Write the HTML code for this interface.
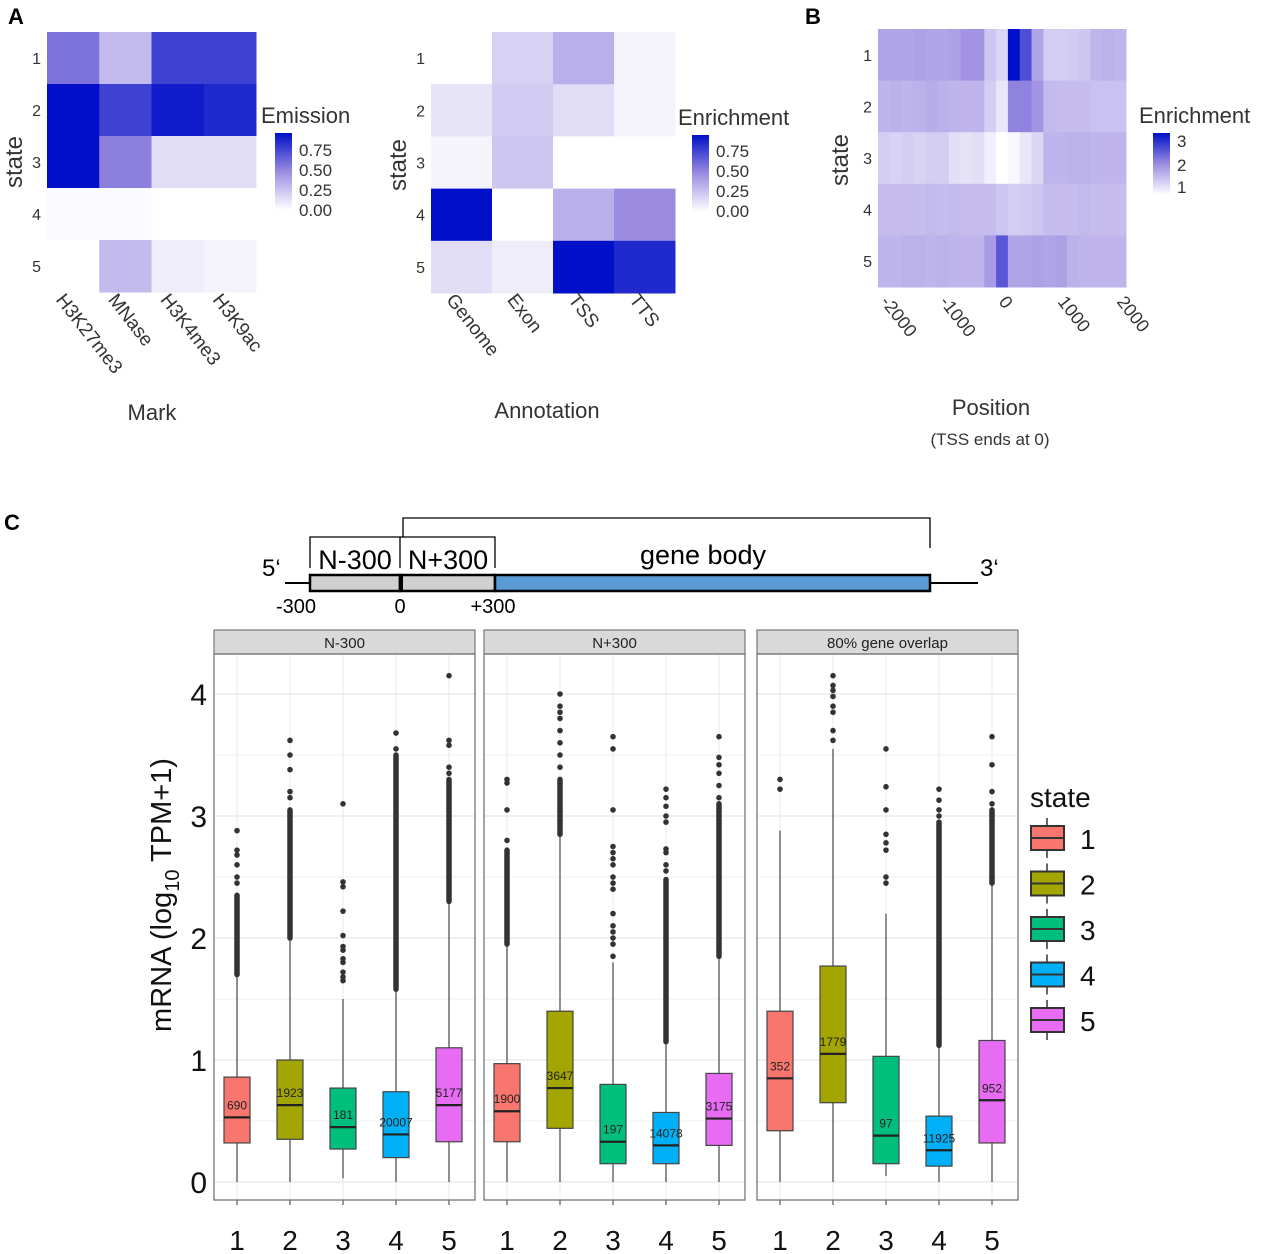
<!DOCTYPE html>
<html><head><meta charset="utf-8"><style>
html,body{margin:0;padding:0;background:#fff}
svg{display:block;font-family:"Liberation Sans",sans-serif}
</style></head><body>
<svg id="fig" width="1280" height="1254" viewBox="0 0 1280 1254" xmlns="http://www.w3.org/2000/svg">
<defs>
<linearGradient id="gradA" x1="0" y1="1" x2="0" y2="0"><stop offset="0" stop-color="#ffffff"/><stop offset="0.5" stop-color="#9b8ce1"/><stop offset="1" stop-color="#0010c8"/></linearGradient>
</defs>
<text x="8" y="24" font-size="22" font-weight="bold">A</text>
<text x="805" y="24" font-size="22" font-weight="bold">B</text>
<text x="4" y="530" font-size="22" font-weight="bold">C</text>
<g id="hm"></g>
<g id="diagram">
<line x1="285" y1="583" x2="978" y2="583" stroke="#000" stroke-width="2"/>
<rect x="310" y="575" width="90" height="16" fill="#d0d0d0" stroke="#000" stroke-width="2.5"/>
<rect x="400" y="575" width="95" height="16" fill="#d0d0d0" stroke="#000" stroke-width="2.5"/>
<rect x="495" y="575" width="435" height="16" fill="#5b9bd5" stroke="#000" stroke-width="2.5"/>
<line x1="401" y1="574" x2="401" y2="592" stroke="#000" stroke-width="4"/>
<path d="M310 568 V537 H400 V568 M400 568 V537 H495 V568" fill="none" stroke="#000" stroke-width="1.3"/>
<path d="M403 537 V518 H930 V548" fill="none" stroke="#000" stroke-width="1.3"/>
<text x="355" y="569" font-size="27" text-anchor="middle">N-300</text>
<text x="448" y="569" font-size="27" text-anchor="middle">N+300</text>
<text x="703" y="564" font-size="27" text-anchor="middle">gene body</text>
<text x="262" y="576" font-size="24">5‘</text>
<text x="980" y="576" font-size="24">3‘</text>
<text x="296" y="613" font-size="20" text-anchor="middle">-300</text>
<text x="400" y="613" font-size="20" text-anchor="middle">0</text>
<text x="493" y="613" font-size="20" text-anchor="middle">+300</text>
</g>
<g id="box"></g>
</svg>
<script>
// ---------- Heatmap data ----------
const marks = ["H3K27me3","MNase","H3K4me3","H3K9ac"];
const emission = [[0.6,0.3,0.8,0.8],[1.0,0.8,0.95,0.9],[1.0,0.55,0.15,0.15],[0.02,0.02,0.0,0.0],[0.0,0.3,0.08,0.05]];
const annotations = ["Genome","Exon","TSS","TTS"];
const annotEnrich = [[0.0,0.2,0.35,0.05],[0.12,0.22,0.15,0.05],[0.05,0.25,0.0,0.0],[1.0,0.0,0.35,0.5],[0.15,0.08,1.0,0.9]];
const positions = [-2000,-1800,-1600,-1400,-1200,-1000,-800,-600,-400,-200,0,200,400,600,800,1000,1200,1400,1600,1800,2000];
const posTicks = [-2000,-1000,0,1000,2000];
const posEnrich = [
 [1.6,1.6,1.6,1.65,1.6,1.6,1.65,1.8,1.8,1.2,1.0,3.3,2.6,1.6,1.1,1.1,1.15,1.2,1.4,1.45,1.4],
 [1.4,1.45,1.4,1.45,1.5,1.45,1.4,1.4,1.4,1.1,0.8,2.0,2.0,1.8,1.35,1.3,1.3,1.3,1.25,1.25,1.25],
 [1.1,1.05,1.1,1.05,1.1,1.1,0.9,0.85,0.9,0.7,0.5,0.6,0.8,1.0,1.4,1.4,1.45,1.45,1.4,1.4,1.4],
 [1.3,1.3,1.3,1.3,1.35,1.3,1.35,1.3,1.3,1.3,1.2,1.1,1.15,1.2,1.3,1.3,1.3,1.35,1.3,1.3,1.3],
 [1.4,1.4,1.45,1.45,1.4,1.45,1.4,1.4,1.4,1.7,2.5,1.6,1.6,1.65,1.6,1.65,1.45,1.4,1.4,1.4,1.4]];
const stateLabels = ["1","2","3","4","5"];

// ---------- Boxplot data ----------
const facets = ["N-300","N+300","80% gene overlap"];
const q1 = [[0.32,0.35,0.27,0.2,0.33],[0.33,0.44,0.15,0.15,0.3],[0.42,0.65,0.15,0.13,0.32]];
const med = [[0.53,0.63,0.45,0.39,0.63],[0.58,0.77,0.33,0.3,0.52],[0.85,1.05,0.38,0.26,0.67]];
const q3 = [[0.86,1.0,0.77,0.74,1.1],[0.97,1.4,0.8,0.57,0.89],[1.4,1.77,1.03,0.54,1.16]];
const wLo = [[0.0,0.0,0.03,0.0,0.0],[0.0,0.0,0.0,0.0,0.0],[0.0,0.0,0.05,0.0,0.0]];
const wHi = [[1.7,2.0,1.5,1.58,2.3],[1.95,2.85,1.8,1.15,1.85],[2.88,3.55,2.2,1.12,2.45]];
const denseLo = [[1.7,2.0,null,1.58,2.3],[1.95,2.85,null,1.15,1.85],[null,null,null,1.12,2.45]];
const denseHi = [[2.35,3.05,null,3.5,3.3],[2.72,3.3,null,2.48,3.1],[null,null,null,2.95,3.05]];
const sparse = [
 [[2.45,2.5,2.6,2.68,2.72,2.88],[3.15,3.2,3.38,3.5,3.62],[1.65,1.68,1.72,1.8,1.83,1.9,1.93,2.02,2.22,2.42,2.46,3.1],[3.55,3.68],[3.35,3.4,3.58,3.62,4.15]],
 [[2.8,3.05,3.27,3.3],[3.4,3.5,3.6,3.7,3.8,3.85,3.9,4.0],[1.85,1.95,2.0,2.05,2.1,2.2,2.4,2.45,2.5,2.6,2.65,2.7,2.75,3.05,3.55,3.65],[2.55,2.6,2.7,2.73,2.95,3.0,3.08,3.15,3.22],[3.15,3.25,3.35,3.42,3.48,3.65]],
 [[3.22,3.3],[3.62,3.7,3.85,3.9,3.98,4.03,4.07,4.15],[2.45,2.5,2.72,2.78,2.85,3.05,3.24,3.55],[3.0,3.05,3.13,3.22],[3.1,3.2,3.42,3.65]]];
const counts = [["690","1923","181","20007","5177"],["1900","3647","197","14078","3175"],["352","1779","97","11925","952"]];
const yTicks = [0,1,2,3,4];

const NS = "http://www.w3.org/2000/svg";
function mk(parent, tag, attrs, txt){const e=document.createElementNS(NS,tag);for(const k in attrs)e.setAttribute(k,attrs[k]);if(txt!==undefined)e.textContent=txt;parent.appendChild(e);return e;}
function lerp(a,b,t){return Math.round(a+(b-a)*t);}
function ramp(t){t=Math.max(0,Math.min(1,t));let c0,c1,u;
 if(t<0.5){c0=[255,255,255];c1=[155,140,225];u=t/0.5;}else{c0=[155,140,225];c1=[0,16,200];u=(t-0.5)/0.5;}
 return `rgb(${lerp(c0[0],c1[0],u)},${lerp(c0[1],c1[1],u)},${lerp(c0[2],c1[2],u)})`;}

const hm = document.getElementById('hm');
function heatmap(x0,x1,y0,y1,vals,colorOf,name){
 const nr=vals.length,nc=vals[0].length,cw=(x1-x0)/nc,rh=(y1-y0)/nr;
 const g=mk(hm,'g',{});
 
 
 vals.forEach((row,r)=>row.forEach((v,c)=>{
  const cell=mk(g,'rect',{x:x0+c*cw,y:y0+r*rh,width:cw+0.5,height:rh+0.5,fill:colorOf(v)});
  
  
 }));
 stateLabels.forEach((s,r)=>{
  const t=mk(hm,'text',{x:x0-6,y:y0+r*rh+rh/2+6,'font-size':16,'text-anchor':'end',fill:'#333'},s);
  
  
 });
 return {cw,rh};
}
function stateTitle(x,y){const t=mk(hm,'text',{x:0,y:0,'font-size':24,'text-anchor':'middle',fill:'#333',transform:`translate(${x},${y}) rotate(-90)`},'state');
 
 }
function colorbar(x,y,h,title,labels,ty){
 const tt=mk(hm,'text',{x:x-14,y:y-10,'font-size':22,fill:'#333'},title);
 
 
 const r=mk(hm,'rect',{x:x,y:y,width:17,height:h,fill:'url(#gradA)'});
 
 
 labels.forEach((l,i)=>{const t=mk(hm,'text',{x:x+24,y:ty[i]+6,'font-size':17,fill:'#333'},l);
  
  });
}
function rotLabels(xs,y,labels,fs,dx){labels.forEach((l,i)=>{const t=mk(hm,'text',{x:0,y:0,'font-size':fs,fill:'#333',transform:`translate(${xs[i]+dx},${y}) rotate(52)`},l);
 
 });}
function axTitle(x,y,s,fs){const t=mk(hm,'text',{x:x,y:y,'font-size':fs,'text-anchor':'middle',fill:'#333'},s);
 
 }

// Heatmap A1
let d=heatmap(47,256,32,292,emission,v=>ramp(v),'emission-heatmap');
stateTitle(22,162);
rotLabels(marks.map((m,i)=>47+d.cw*(i+0.5)),300,marks,19,-18);
axTitle(152,420,'Mark',22);
colorbar(275,133,77,'Emission',['0.75','0.50','0.25','0.00'],[150,170,190,210]);
// Heatmap A2
d=heatmap(431,675,32,293,annotEnrich,v=>ramp(v),'annotation-heatmap');
stateTitle(406,165);
rotLabels(annotations.map((m,i)=>431+d.cw*(i+0.5)),300,annotations,19,-16);
axTitle(547,418,'Annotation',22);
colorbar(692,135,77,'Enrichment',['0.75','0.50','0.25','0.00'],[151,171,191,211]);
// Heatmap B
const eMin=0.5,eMax=3.3;
d=heatmap(878,1126,29,287,posEnrich,v=>ramp((v-eMin)/(eMax-eMin)),'position-heatmap');
stateTitle(848,160);
const posX=p=>878+d.cw*(positions.indexOf(p)+0.5);
rotLabels(posTicks.map(posX),302,posTicks.map(String),18,-4);
axTitle(991,415,'Position',22);
axTitle(990,445,'(TSS ends at 0)',17);
colorbar(1153,133,62,'Enrichment',['3','2','1'],[141,165,187]);

// ---------- Boxplots ----------
const bx=document.getElementById('box');
const panelX=[214,484,757], panelW=261, pTop=654, pBottom=1200, stripTop=630;
const colors=["#F8766D","#A3A500","#00BF7D","#00B0F6","#E76BF3"];
const yv=v=>1182-122*v;
const xv=(p,i)=>panelX[p]+23+i*53;
facets.forEach((f,p)=>{
 const g=mk(bx,'g',{});
 
 
 const bg=mk(g,'rect',{x:panelX[p],y:pTop,width:panelW,height:pBottom-pTop,fill:'#fff'});
 
 
 for(let v=0;v<=4.25;v+=0.5){const gl=mk(g,'line',{x1:panelX[p],x2:panelX[p]+panelW,y1:yv(v),y2:yv(v),stroke:Number.isInteger(v)?'#e6e6e6':'#f2f2f2','stroke-width':1.2});
  
  }
 for(let i=0;i<5;i++){const gl=mk(g,'line',{x1:xv(p,i),x2:xv(p,i),y1:pTop,y2:pBottom,stroke:'#ececec','stroke-width':1.2});
  
  }
 const st=mk(g,'rect',{x:panelX[p],y:stripTop,width:panelW,height:pTop-stripTop,fill:'#d9d9d9',stroke:'#777','stroke-width':1.2});
 
 
 const stt=mk(g,'text',{x:panelX[p]+panelW/2,y:stripTop+18,'font-size':15,'text-anchor':'middle',fill:'#222'},f);
 
 
 for(let i=0;i<5;i++){
  const x=xv(p,i), bw=26;
  const bg2=mk(g,'g',{});
  
  
  mk(bg2,'line',{x1:x,x2:x,y1:yv(wLo[p][i]),y2:yv(wHi[p][i]),stroke:'#555','stroke-width':1.3});
  if(denseLo[p][i]!==null){const dl=mk(bg2,'line',{x1:x,x2:x,y1:yv(denseLo[p][i]),y2:yv(denseHi[p][i]),stroke:'#333','stroke-width':5.5,'stroke-linecap':'round'});
   
   }
  sparse[p][i].forEach(v=>{const c=mk(bg2,'circle',{cx:x,cy:yv(v),r:2.8,fill:'#333'});
   
   });
  const r=mk(bg2,'rect',{x:x-bw/2,y:yv(q3[p][i]),width:bw,height:yv(q1[p][i])-yv(q3[p][i]),fill:colors[i],stroke:'#444','stroke-width':1.2});
  
  
  const m=mk(bg2,'line',{x1:x-bw/2,x2:x+bw/2,y1:yv(med[p][i]),y2:yv(med[p][i]),stroke:'#222','stroke-width':2.2});
  
  
  const ct=mk(bg2,'text',{x:x,y:yv(med[p][i])-8,'font-size':12,'text-anchor':'middle',fill:'#222'},counts[p][i]);
  
  
  const tk=mk(g,'line',{x1:x,x2:x,y1:pBottom,y2:pBottom+5,stroke:'#555','stroke-width':1.2});
  
  
  const xl=mk(g,'text',{x:x,y:1250,'font-size':28,'text-anchor':'middle',fill:'#111'},String(i+1));
  
  
 }
 const br=mk(g,'rect',{x:panelX[p],y:pTop,width:panelW,height:pBottom-pTop,fill:'none',stroke:'#777','stroke-width':1.3});
 
 
});
yTicks.forEach(v=>{const t=mk(bx,'text',{x:207,y:yv(v)+11,'font-size':30,'text-anchor':'end',fill:'#111'},String(v));
 
 });
const yt=mk(bx,'text',{x:0,y:0,'font-size':29,'text-anchor':'middle',fill:'#111',transform:'translate(171,895) rotate(-90)'});


mk(yt,'tspan',{},'mRNA (log');
mk(yt,'tspan',{'font-size':20,dy:8},'10');
mk(yt,'tspan',{dy:-8},' TPM+1)');
// legend
const lt=mk(bx,'text',{x:1030,y:807,'font-size':28,fill:'#111'},'state');


colors.forEach((c,i)=>{const cy=838+i*45.5;
 const lg=mk(bx,'g',{});
 
 
 mk(lg,'line',{x1:1047,x2:1047,y1:cy-20,y2:cy+20,stroke:'#333','stroke-width':1.5});
 mk(lg,'rect',{x:1031,y:cy-12,width:33,height:24,fill:c,stroke:'#333','stroke-width':2});
 mk(lg,'line',{x1:1031,x2:1064,y1:cy,y2:cy,stroke:'#333','stroke-width':2});
 mk(lg,'text',{x:1080,y:cy+11,'font-size':28,fill:'#111'},String(i+1));
});
</script>
</body></html>
